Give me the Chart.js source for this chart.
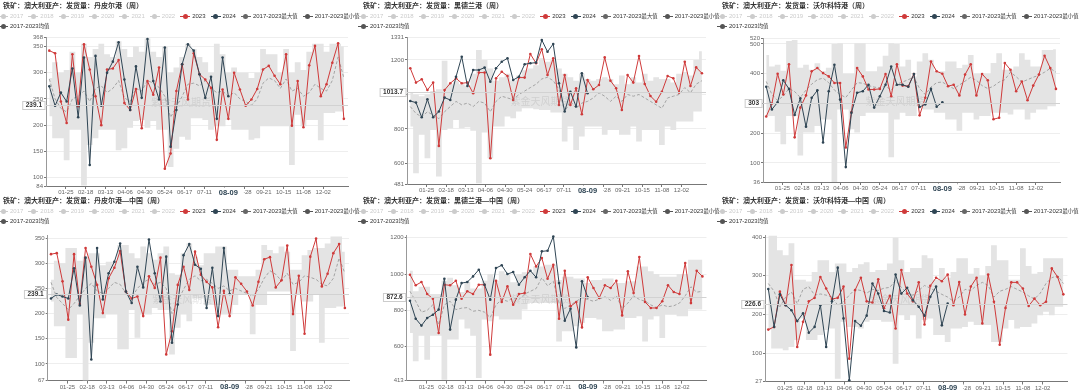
<!DOCTYPE html>
<html>
<head>
<meta charset="utf-8">
<script src="https://cdn.jsdelivr.net/npm/chart.js@4.4.1/dist/chart.umd.min.js"></script>
<style>
  body { margin: 0; background: #fff; width: 1080px; height: 392px; overflow: hidden; position: relative;
         font-family: 'Liberation Sans', 'Noto Sans CJK SC', sans-serif; }
  .panel { position: absolute; }
  .panel canvas { position: absolute; left: 0; top: 0; }
  .title { position: absolute; left: 3px; top: 1px; font-size: 7px; line-height: 9px; font-weight: bold; color: #333; white-space: nowrap; }
  .legend { position: absolute; left: -2px; top: 11px; width: 400px; display: flex; flex-wrap: wrap; font-size: 6px; line-height: 10px; }
  .item { display: flex; align-items: center; margin-right: 5px; white-space: nowrap; }
  .cjk { font-size: 5.4px; }
  .ico { position: relative; display: inline-block; width: 10px; height: 10px; margin-right: 2px; }
  .ico::before { content: ''; position: absolute; left: 0; right: 0; top: 4.5px; height: 1px; background: currentColor; }
  .ico::after { content: ''; position: absolute; left: 2.5px; top: 2.5px; width: 5px; height: 5px; border-radius: 50%; background: currentColor; }
</style>
</head>
<body>
<script>
// weekly points, placed on day-of-year of 2024 (Fridays)
const weekDays = [4,11,18,25,32,39,46,53,60,67,74,81,88,95,102,109,116,123,130,137,144,151,158,165,172,179,186,193,200,207,214,221,228,235,242,249,256,263,270,277,284,291,298,305,312,319,326,333,340,347,354,361];
const tickDays = [24,48,72,96,120,144,168,192,216,240,264,288,312,336];
const tickLabels = ['01-25','02-18','03-13','04-06','04-30','05-24','06-17','07-11','08-04','08-28','09-21','10-15','11-08','12-02'];
const yearLabels = ['2017','2018','2019','2020','2021','2022'];
const crossDay = 221;
const crossLabel = '08-09';
const crossValues = [239.1, 1013.7, 303, 239.1, 872.6, 226.6];

// 丹皮尔港
const dp2023 = [342,337,245,204,335,236,354,306,255,200,306,308,324,242,229,269,194,284,258,310,117,146,265,316,249,337,297,287,271,172,268,212,300,268,237,249,269,306,313,294,278,335,199,284,196,314,351,255,278,319,356,212];
const dp2024 = [274,237,262,245,308,215,329,124,332,237,300,321,358,287,229,312,252,364,284,249,348,159,229,316,354,342,297,252,292,212,329,255];
const dpMax = [290,320,300,305,340,300,355,330,345,355,335,330,360,345,330,350,340,365,340,330,350,300,310,330,355,345,330,320,300,355,335,300,310,300,300,290,300,345,335,335,300,345,300,320,305,340,355,355,340,355,355,350];
const dpMin = [217,175,175,133,191,191,85,162,175,191,191,191,152,156,195,208,210,195,208,191,191,120,155,178,172,213,213,210,191,198,198,210,191,191,191,172,175,198,198,198,198,198,124,220,198,210,210,171,223,223,226,226];
const dpMean = [288,250,232,225,250,255,265,245,270,275,262,270,285,252,245,270,265,285,280,272,255,215,235,255,278,280,275,285,270,262,265,255,262,250,245,238,250,280,290,285,270,288,265,270,255,262,278,270,265,285,330,290];
const dpTicks = [84,100,150,200,250,300,350,368];

// 黑德兰港
const hd2023 = [1152,1069,1088,1026,1069,702,1026,1065,1094,1065,1069,1007,1127,1127,630,1094,1132,1107,968,1098,1098,1235,1181,1262,1113,1210,939,1113,939,1036,885,1084,1030,1055,1215,1080,1036,910,1113,1069,1223,1061,991,958,1016,1107,1094,1011,1190,1049,1157,1123];
const hd2024 = [962,953,868,972,868,901,982,968,1103,1219,1049,1142,1142,1156,1074,1152,1190,1210,1084,1103,1175,1181,1185,1316,1248,1293,1065,901,1016,930,1123,1007];
const hdMax = [1010,1000,990,1000,1020,1030,1196,1060,1080,1060,1050,1120,1258,1200,1150,1080,1100,1120,1080,1110,1140,1150,1170,1210,1190,1200,1150,1120,1100,1080,1120,1090,1080,1090,1100,1090,1060,1110,1060,1100,1070,1120,1080,1100,1090,1090,1070,1120,1130,1110,1200,1250];
const hdMin = [814,543,766,630,794,524,794,804,852,804,810,790,485,780,630,814,814,872,862,901,920,920,915,910,910,895,895,727,814,678,756,814,814,814,766,794,794,766,766,814,727,794,794,794,707,814,794,843,843,843,901,901];
const hdMean = [930,890,870,900,880,860,900,930,960,940,950,930,960,950,900,960,990,980,970,1000,1020,1040,1060,1090,1100,1080,1030,900,960,920,950,960,980,1010,990,960,990,960,1000,990,1000,980,960,940,920,980,990,1000,1040,1010,1060,1080];
const hdTicks = [481,600,800,1000,1200,1331];

// 沃尔科特港
const wk2023 = [256,300,400,330,432,186,286,327,408,419,402,391,369,369,152,271,419,391,347,347,349,399,324,432,360,358,399,260,319,441,408,400,358,363,327,397,432,327,399,378,247,252,436,413,341,374,311,360,397,460,419,349];
const wk2024 = [356,280,304,378,349,261,317,222,319,344,169,341,430,313,86,269,336,341,363,286,324,363,424,363,363,356,399,288,297,349,289,304];
const wkMax = [463,424,430,410,510,513,420,430,413,435,408,420,500,502,400,400,502,502,408,408,424,460,502,500,424,447,391,441,469,447,408,408,441,441,419,430,463,400,400,400,436,469,413,413,424,469,447,424,424,480,480,482];
const wkMin = [258,258,205,163,258,258,125,202,202,224,246,246,36,280,280,213,202,258,269,269,269,269,119,246,269,258,258,291,280,280,269,269,246,246,208,269,269,246,258,258,269,269,269,263,280,280,246,269,280,280,291,291];
const wkMean = [374,330,310,325,350,340,320,345,365,380,385,370,345,330,320,345,370,368,360,355,352,358,345,365,372,380,388,350,330,355,370,372,360,350,362,375,388,378,360,350,358,372,380,405,390,372,380,388,395,405,418,405];
const wkTicks = [36,100,200,300,400,500,520];

// 丹皮尔港—中国
const dpc2023 = [318,320,264,188,318,219,330,293,257,201,270,291,324,244,230,234,195,274,251,311,119,165,257,293,247,323,277,263,252,173,245,195,272,259,244,216,263,308,312,252,266,335,199,275,160,313,349,254,279,320,338,211];
const dpc2024 = [230,238,234,230,290,216,311,109,330,228,280,303,339,244,221,293,252,347,280,224,313,142,218,316,338,297,289,211,291,195,330,239];
const dpcMax = [267,305,300,330,330,305,313,320,320,296,303,303,336,336,320,310,333,320,307,320,333,280,277,320,339,313,296,320,320,333,333,287,287,274,274,274,287,336,326,320,333,323,287,287,316,326,330,330,339,353,353,323];
const dpcMin = [224,175,175,112,112,198,66,142,191,191,198,198,129,129,207,152,198,198,211,207,207,119,172,198,185,230,230,217,217,217,198,198,217,237,237,159,217,217,244,244,244,244,126,237,224,224,237,142,211,211,214,214];
const dpcMean = [262,232,220,208,220,235,250,260,245,240,250,262,258,240,232,250,262,268,258,262,250,200,225,248,268,275,265,268,260,250,255,245,250,245,240,235,248,270,285,278,265,280,258,262,275,272,268,258,255,270,310,280];
const dpcTicks = [67,100,150,200,250,300,350];

// 黑德兰港—中国
const hdc2023 = [996,938,956,890,864,675,941,938,963,864,905,890,941,941,556,963,846,932,831,890,895,1110,1042,1088,974,1051,754,1018,822,846,706,982,923,868,938,923,963,772,1015,895,1094,846,813,813,850,938,901,890,1061,840,1018,987];
const hdc2024 = [853,754,716,758,776,804,974,694,859,950,956,987,1024,941,859,1033,1048,1000,1011,941,982,1018,982,1125,1128,1207,950,743,809,596,960,872];
const hdcMax = [1018,905,930,930,890,890,963,980,938,901,956,920,920,963,1000,963,1015,1000,955,1000,1010,1010,1042,1042,1051,1051,967,985,985,976,976,950,967,967,976,976,950,950,960,960,1042,1042,1015,1000,985,985,985,1000,1000,1079,1079,1079];
const hdcMin = [675,519,660,528,660,660,418,640,640,749,700,660,427,749,740,767,749,749,749,749,804,841,841,841,841,841,629,685,685,712,730,758,758,749,685,685,694,694,758,758,767,629,749,767,648,776,776,767,767,804,804,804];
const hdcMean = [905,850,790,800,831,720,830,850,804,812,815,795,800,790,760,830,860,850,870,860,890,905,920,980,935,960,840,810,830,850,870,860,850,862,875,855,880,810,840,880,860,850,830,815,830,820,825,840,880,930,900,905];
const hdcTicks = [413,600,800,1000,1200];

// 沃尔科特港—中国
const wkc2023 = [161,168,259,224,328,116,181,234,243,297,267,240,243,272,86,263,295,234,231,291,216,248,164,315,254,234,283,174,274,295,286,303,224,284,200,272,295,177,303,233,122,217,283,283,267,222,241,224,233,319,297,252];
const wkc2024 = [266,168,252,224,211,183,203,153,168,224,116,234,321,190,30,183,171,197,280,254,209,205,303,254,269,237,220,197,246,272,172,228];
const wkcMax = [405,405,366,353,384,290,290,285,310,340,340,310,332,332,310,320,330,335,310,315,315,332,398,340,310,320,320,353,345,290,320,295,310,345,345,305,320,300,325,379,340,340,290,290,371,325,305,310,345,345,345,345];
const wkcMin = [160,112,112,108,116,134,190,134,134,147,160,164,34,181,168,168,164,181,186,186,181,181,73,198,186,198,138,186,190,147,147,129,164,164,168,181,173,173,173,129,129,164,186,164,168,168,177,198,207,198,220,220];
const wkcMean = [280,260,220,245,258,228,265,272,250,253,250,245,224,233,250,265,262,255,265,262,268,270,288,270,255,250,262,275,268,260,252,245,234,245,265,262,275,283,275,245,260,265,272,265,258,248,240,255,280,295,300,280];
const wkcTicks = [27,100,200,300,400];

const FONT = "'Liberation Sans','Noto Sans CJK SC',sans-serif";
const RED = '#cf3a3a';
const NAVY = '#2f4554';
const BAND = '#e4e4e4';

const panels = [
  { left: 0, top: 0, w: 360, h: 196, area: [46, 37, 348, 186], title: '铁矿：澳大利亚产：发货量：丹皮尔港（周）',
    y23: dp2023, y24: dp2024, max: dpMax, min: dpMin, mean: dpMean, yMin: 84, yMax: 368, yTicks: dpTicks, cross: crossValues[0] },
  { left: 360, top: 0, w: 360, h: 196, area: [47, 37.4, 346, 184], title: '铁矿：澳大利亚产：发货量：黑德兰港（周）',
    y23: hd2023, y24: hd2024, max: hdMax, min: hdMin, mean: hdMean, yMin: 481, yMax: 1331, yTicks: hdTicks, cross: crossValues[1] },
  { left: 719, top: 0, w: 361, h: 196, area: [44, 38, 341, 182], title: '铁矿：澳大利亚产：发货量：沃尔科特港（周）',
    y23: wk2023, y24: wk2024, max: wkMax, min: wkMin, mean: wkMean, yMin: 36, yMax: 520, yTicks: wkTicks, cross: crossValues[2] },
  { left: 0, top: 195, w: 360, h: 197, area: [47.7, 40, 349, 185.6], title: '铁矿：澳大利亚产：发货量：丹皮尔港—中国（周）',
    y23: dpc2023, y24: dpc2024, max: dpcMax, min: dpcMin, mean: dpcMean, yMin: 67, yMax: 356, yTicks: dpcTicks, cross: crossValues[3] },
  { left: 360, top: 195, w: 360, h: 197, area: [46.7, 40, 346.5, 185.6], title: '铁矿：澳大利亚产：发货量：黑德兰港—中国（周）',
    y23: hdc2023, y24: hdc2024, max: hdcMax, min: hdcMin, mean: hdcMean, yMin: 413, yMax: 1215, yTicks: hdcTicks, cross: crossValues[4] },
  { left: 719, top: 195, w: 361, h: 197, area: [46, 40.5, 348.5, 186.5], title: '铁矿：澳大利亚产：发货量：沃尔科特港—中国（周）',
    y23: wkc2023, y24: wkc2024, max: wkcMax, min: wkcMin, mean: wkcMean, yMin: 27, yMax: 404, yTicks: wkcTicks, cross: crossValues[5] }
];

// axis pointer labels + watermark, like the echarts screenshot
const crossPlugin = {
  id: 'cross',
  afterDatasetsDraw(chart, args, opts) {
    const { ctx, chartArea: a, scales: { x, y } } = chart;
    const py = Math.round(y.getPixelForValue(opts.value)) + 0.5;
    ctx.save();
    ctx.textAlign = 'center';
    ctx.textBaseline = 'middle';
    ctx.font = '10px ' + FONT;
    ctx.fillStyle = 'rgba(140,140,140,0.22)';
    ctx.fillText('紫金天风期货', (a.left + a.right) / 2 - 16, (a.top + a.bottom) / 2 - 8);

    ctx.strokeStyle = '#d2d2d2';
    ctx.lineWidth = 1;
    ctx.beginPath();
    ctx.moveTo(a.left, py);
    ctx.lineTo(a.right, py);
    ctx.stroke();

    ctx.font = 'bold 6.5px ' + FONT;
    const txt = String(opts.value);
    const w = ctx.measureText(txt).width + 6;
    ctx.fillStyle = '#fff';
    ctx.strokeStyle = '#ccc';
    ctx.fillRect(a.left - w - 1, py - 4, w, 8);
    ctx.strokeRect(a.left - w - 1, py - 4, w, 8);
    ctx.fillStyle = '#333';
    ctx.fillText(txt, a.left - 1 - w / 2, py);

    const px = x.getPixelForValue(opts.day);
    ctx.fillStyle = '#fff';
    ctx.fillRect(px - 15.5, a.bottom + 1.5, 31, 9);
    ctx.font = 'bold 7.5px ' + FONT;
    ctx.fillStyle = NAVY;
    ctx.fillText(opts.label, px, a.bottom + 6.5);
    ctx.restore();
  }
};

function pts(arr) {
  return arr.map((v, i) => ({ x: weekDays[i], y: v }));
}

function makeDatasets(p) {
  const sets = yearLabels.map(l => ({ label: l, data: [], hidden: true, iconColor: '#ccc', order: 10 }));
  sets.push({ label: '2023', data: pts(p.y23), borderColor: RED, backgroundColor: RED, iconColor: RED,
              borderWidth: 1, pointRadius: 1.3, pointBorderWidth: 0, order: 1 });
  sets.push({ label: '2024', data: pts(p.y24), borderColor: NAVY, backgroundColor: NAVY, iconColor: NAVY,
              borderWidth: 1, pointRadius: 1.3, pointBorderWidth: 0, order: 0 });
  sets.push({ label: '2017-2023最大值', data: pts(p.max), stepped: 'middle', borderColor: 'rgba(0,0,0,0)',
              backgroundColor: BAND, fill: '+1', pointRadius: 0, iconColor: '#666', order: 3 });
  sets.push({ label: '2017-2023最小值', data: pts(p.min), stepped: 'middle', borderColor: 'rgba(0,0,0,0)',
              fill: false, pointRadius: 0, iconColor: '#555', order: 4 });
  sets.push({ label: '2017-2023均值', data: pts(p.mean), borderColor: '#a4a4a4', borderDash: [3, 2],
              borderWidth: 1, pointRadius: 0, iconColor: '#555', order: 2 });
  return sets;
}

function buildLegend(el, chart) {
  chart.data.datasets.forEach(ds => {
    const item = document.createElement('span');
    item.className = 'item';
    item.style.color = ds.hidden ? '#ccc' : '#333';
    const text = ds.label.replace(/([^\x00-\x7f]+)/g, '<span class="cjk">$1</span>');
    item.innerHTML = '<i class="ico" style="color:' + (ds.hidden ? '#ccc' : ds.iconColor) + '"></i>' + text;
    el.appendChild(item);
  });
}

panels.forEach(p => {
  const box = document.createElement('div');
  box.className = 'panel';
  box.style.cssText = `left:${p.left}px;top:${p.top}px;width:${p.w}px;height:${p.h}px`;
  const cv = document.createElement('canvas');
  cv.width = p.w;
  cv.height = p.h;
  box.appendChild(cv);
  const title = document.createElement('div');
  title.className = 'title';
  title.textContent = p.title;
  box.appendChild(title);
  const legend = document.createElement('div');
  legend.className = 'legend';
  box.appendChild(legend);
  document.body.appendChild(box);

  const tickFont = { size: 6, family: FONT };
  const chart = new Chart(cv, {
    type: 'line',
    data: { datasets: makeDatasets(p) },
    options: {
      responsive: false,
      animation: false,
      events: [],
      layout: { padding: { left: 0, top: p.area[1], right: p.w - p.area[2], bottom: 0 } },
      elements: { line: { tension: 0 } },
      scales: {
        x: {
          type: 'linear', min: 0, max: 366,
          afterBuildTicks: s => { s.ticks = tickDays.map(v => ({ value: v })); },
          afterFit: s => { s.height = p.h - p.area[3]; },
          ticks: { callback: (v, i) => tickLabels[i], font: tickFont, color: '#666', padding: 0,
                   maxRotation: 0, minRotation: 0, autoSkip: false },
          grid: { drawOnChartArea: false, tickLength: 3, tickColor: '#777' },
          border: { color: '#777' }
        },
        y: {
          min: p.yMin, max: p.yMax,
          afterBuildTicks: s => { s.ticks = p.yTicks.map(v => ({ value: v })); },
          afterFit: s => { s.width = p.area[0]; },
          ticks: { callback: v => String(v), font: tickFont, color: '#666', padding: 1 },
          grid: { color: '#eee', tickLength: 2, tickColor: '#777' },
          border: { color: '#999' }
        }
      },
      plugins: {
        legend: { display: false },
        tooltip: { enabled: false },
        cross: { value: p.cross, day: crossDay, label: crossLabel }
      }
    },
    plugins: [crossPlugin]
  });
  buildLegend(legend, chart);
});
</script>
</body>
</html>
